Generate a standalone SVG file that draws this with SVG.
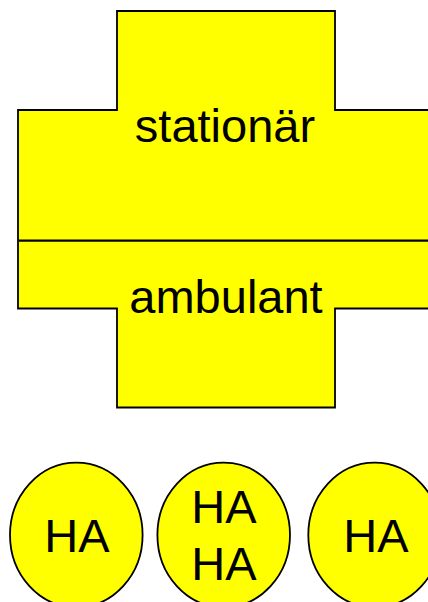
<svg xmlns="http://www.w3.org/2000/svg" width="428" height="602" viewBox="0 0 428 602">
  <style>
    .shape { fill: #ffff00; stroke: #000000; stroke-width: 1.8; }
    .label { font-family: "Liberation Sans", Arial, sans-serif; font-size: 47px; fill: #000000; text-anchor: middle; }
  </style>
  <rect width="428" height="602" fill="#ffffff"/>

  <!-- cross: inpatient (top) / outpatient (bottom) -->
  <g id="cross">
    <path class="shape" d="M117,11 H335 V110 H440 V308.5 H335 V407.5 H117 V308.5 H18 V110 H117 Z"/>
    <line x1="19" y1="240.7" x2="440" y2="240.7" stroke="#000000" stroke-width="2.2"/>
    <text class="label" x="225" y="141.7">stationär</text>
    <text class="label" x="226" y="313.3">ambulant</text>
  </g>

  <!-- general practitioners -->
  <g id="ha1">
    <ellipse class="shape" cx="76.3" cy="535" rx="66.3" ry="72.3"/>
    <text class="label" x="77" y="551.7">HA</text>
  </g>
  <g id="ha2">
    <ellipse class="shape" cx="223.7" cy="535" rx="66.3" ry="72.3"/>
    <text class="label" x="224" y="522.7">HA</text>
    <text class="label" x="224" y="580">HA</text>
  </g>
  <g id="ha3">
    <ellipse class="shape" cx="374.6" cy="535" rx="66.3" ry="72.3"/>
    <text class="label" x="376" y="551.7">HA</text>
  </g>
</svg>
